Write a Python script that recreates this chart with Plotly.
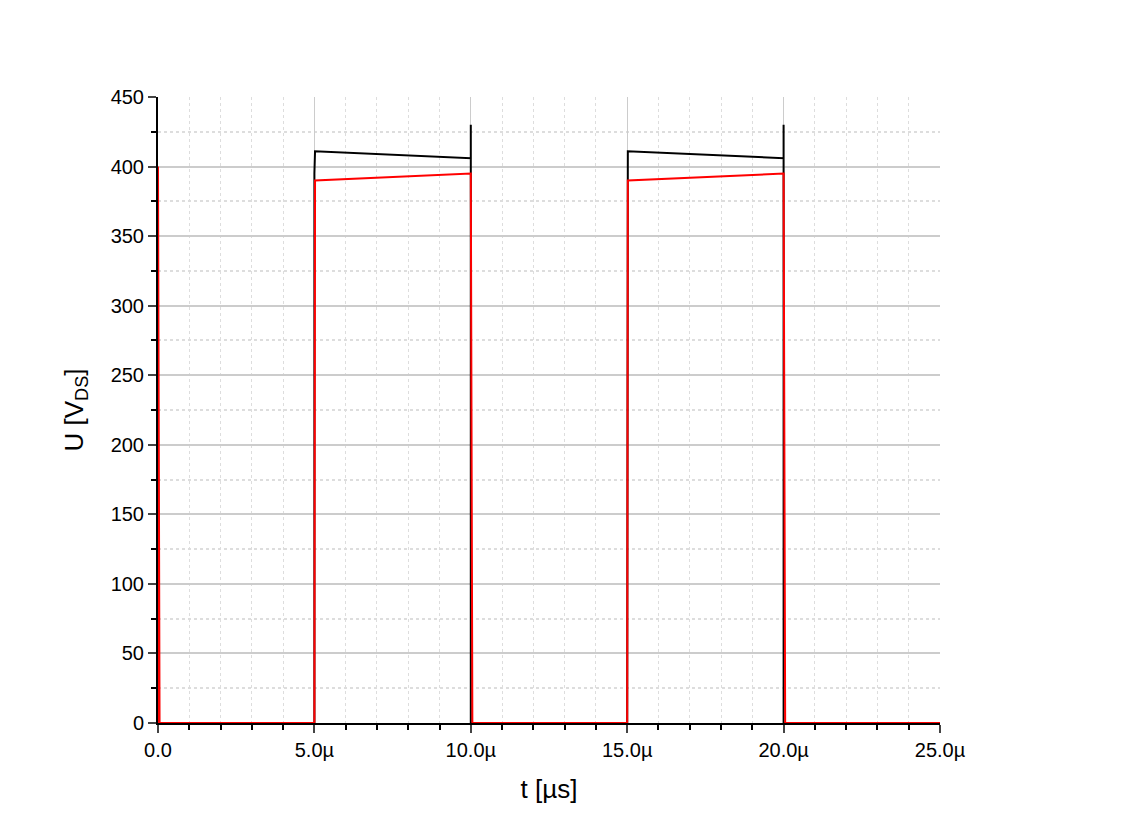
import plotly.graph_objects as go

t_upper = [0, 0.02e-6, 5.0e-6, 5.0e-6, 5.02e-6, 10.0e-6, 10.0e-6, 10.0e-6, 10.02e-6, 15.0e-6, 15.0e-6, 15.02e-6, 20.0e-6, 20.0e-6, 20.0e-6, 20.02e-6, 25.0e-6]
u_upper = [0, 0, 0, 395, 411, 406, 430, 0, 0, 0, 395, 411, 406, 430, 0, 0, 0]
t_lower = [0, 0, 0.05e-6, 5.0e-6, 5.02e-6, 10.0e-6, 10.05e-6, 15.0e-6, 15.02e-6, 20.0e-6, 20.05e-6, 25.0e-6]
u_lower = [0, 400, 0, 0, 390, 395, 0, 0, 390, 395, 0, 0]
x_ticks = [0, 5e-6, 10e-6, 15e-6, 20e-6, 25e-6]
x_labels = ["0.0", "5.0µ", "10.0µ", "15.0µ", "20.0µ", "25.0µ"]
y_ticks = list(range(0, 451, 50))

fig = go.Figure()
fig.add_trace(go.Scatter(x=t_upper, y=u_upper, mode="lines", line=dict(color="black", width=2),
    name="<span style='font-size:26px'>U</span><sub>G</sub> - upper transistor"))
fig.add_trace(go.Scatter(x=t_lower, y=u_lower, mode="lines", line=dict(color="red", width=2),
    name="<span style='font-size:26px'>U</span><sub>G</sub> - lower transistor"))

fig.update_layout(
    width=1124, height=833, plot_bgcolor="white", paper_bgcolor="white",
    margin=dict(l=150, r=192, t=89, b=118, autoexpand=False),
    font=dict(family="Liberation Sans, Arial", color="black", size=20),
    showlegend=True,
    legend=dict(x=780, y=0.985, xanchor="left", yanchor="top", xref="container", yref="container",
                bordercolor="#444", borderwidth=1, font=dict(size=18), bgcolor="white",
                tracegroupgap=8),
    xaxis=dict(range=[0, 25e-6], tickvals=x_ticks, ticktext=x_labels, ticks="outside", ticklen=8,
               tickwidth=2, showline=True, linecolor="black", linewidth=2, zeroline=False,
               automargin=False, tickfont=dict(size=20),
               showgrid=True, gridcolor="#cccccc", gridwidth=1,
               minor=dict(dtick=1e-6, ticks="outside", ticklen=5, tickwidth=2, tickcolor="black",
                          showgrid=True, gridcolor="#dddddd", griddash="dot"),
               title=dict(text="t [µs]", font=dict(size=26), standoff=20)),
    yaxis=dict(range=[0, 450], tickvals=y_ticks, ticks="outside", ticklen=8, tickwidth=2,
               showline=True, linecolor="black", linewidth=2, zeroline=False,
               automargin=False, tickfont=dict(size=20),
               showgrid=True, gridcolor="#cccccc", gridwidth=2,
               minor=dict(dtick=25, ticks="outside", ticklen=5, tickwidth=2, tickcolor="black",
                          showgrid=True, gridcolor="#dddddd", griddash="dot"),
               title=dict(text="U [V<sub>DS</sub>]", font=dict(size=26), standoff=20)),
)
fig.write_html("out.html")
